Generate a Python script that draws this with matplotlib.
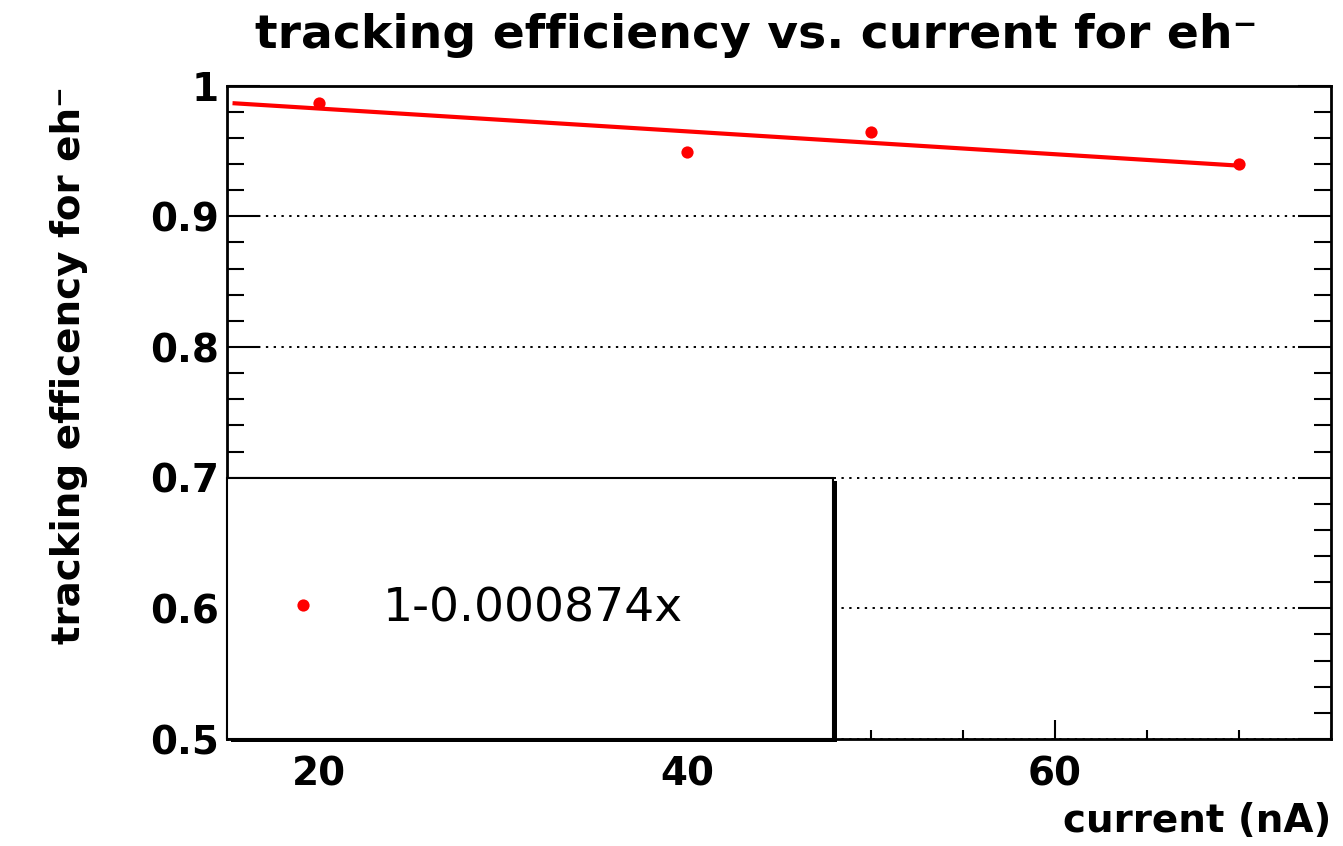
import matplotlib
matplotlib.use("Agg")
import matplotlib.pyplot as plt
from matplotlib.lines import Line2D
from matplotlib.patches import Rectangle
from matplotlib.ticker import MultipleLocator, FixedLocator
import numpy as np

# ---- data ----
current_nA = [20, 40, 50, 70]
efficiency = [0.987, 0.949, 0.9648, 0.9398]
fit_intercept = 1.0
fit_slope = -0.000874
fit_range = [15.3, 70]
fit_label = "1-0.000874x"
x_major_ticks = [20, 40, 60]
y_major_ticks = [0.5, 0.6, 0.7, 0.8, 0.9, 1.0]
y_tick_labels = ["0.5", "0.6", "0.7", "0.8", "0.9", "1"]
title = "tracking efficiency vs. current for eh\u207b"
xlabel = "current (nA)"
ylabel = "tracking efficency for eh\u207b"

W, H = 1343, 846
fig = plt.figure(figsize=(W / 100, H / 100), dpi=100)
plt.rcParams['font.family'] = ['DejaVu Sans']

ax_l, ax_r, ax_t, ax_b = 227, 1331, 85.7, 739
ax = fig.add_axes([ax_l / W, 1 - ax_b / H, (ax_r - ax_l) / W, (ax_b - ax_t) / H])
ax.set_xlim(15, 75)
ax.set_ylim(0.5, 1.0)

# grid (horizontal only)
ax.yaxis.grid(True, color='black', linestyle=(0, (1.2, 2.8)), linewidth=1.4, zorder=0)
ax.set_axisbelow(True)

# fit line
fx = np.array(fit_range)
fy = fit_intercept + fit_slope * fx
ax.plot(fx, fy, color='#ff0000', lw=3.0, zorder=3, solid_capstyle='butt')
# data points
ax.plot(current_nA, efficiency, linestyle='none', marker='o', color='#ff0000',
        markersize=8.8, markeredgewidth=0, zorder=4)

# ticks
ax.xaxis.set_major_locator(FixedLocator(x_major_ticks))
ax.xaxis.set_minor_locator(MultipleLocator(5))
ax.yaxis.set_major_locator(FixedLocator(y_major_ticks))
ax.set_yticklabels(y_tick_labels)
ax.yaxis.set_minor_locator(MultipleLocator(0.02))
ax.tick_params(axis='x', which='major', direction='in', length=13.5, width=1.5,
               top=False, bottom=True, labelsize=28, pad=12)
ax.tick_params(axis='x', which='minor', direction='in', length=6.7, width=1.5,
               top=False, bottom=True)
ax.tick_params(axis='y', which='major', direction='in', length=24, width=1.5,
               left=True, right=True, labelsize=28, pad=6)
ax.tick_params(axis='y', which='minor', direction='in', length=12, width=1.5,
               left=True, right=True)
for lab in ax.get_xticklabels() + ax.get_yticklabels():
    lab.set_fontweight('bold')
for s in ax.spines.values():
    s.set_linewidth(2.0)

# legend frame with shadow (axes fraction)
lx1 = (833 - ax_l) / (ax_r - ax_l)
ly1 = (ax_b - 478) / (ax_b - ax_t)
sh = Rectangle((0.004, -0.005), lx1, ly1, transform=ax.transAxes,
               facecolor='black', edgecolor='black', lw=0, zorder=5, clip_on=False)
ax.add_patch(sh)
box = Rectangle((0, 0), lx1, ly1, transform=ax.transAxes,
                facecolor='white', edgecolor='black', lw=1.5, zorder=6, clip_on=False)
ax.add_patch(box)

handle = Line2D([], [], linestyle='none', marker='o', color='#ff0000',
                markersize=8.8, markeredgewidth=0)
leg = ax.legend([handle], [fit_label], loc='center left',
                bbox_to_anchor=((279 - ax_l) / (ax_r - ax_l), (ax_b - 609) / (ax_b - ax_t)),
                frameon=False, borderpad=0, borderaxespad=0, handlelength=1.0,
                handletextpad=1.2, prop={'size': 34})
leg.set_zorder(7)

# titles
fig.text(756 / W, 1 - 48 / H, title, ha='center', va='baseline',
         fontsize=34, fontweight='bold')
fig.text(1331 / W, 1 - 832 / H, xlabel, ha='right', va='baseline',
         fontsize=28, fontweight='bold')
fig.text(69 / W, 1 - 86 / H, ylabel, ha='center', va='top', rotation=90,
         fontsize=28, fontweight='bold')

fig.savefig("out.png", dpi=100, facecolor='white')
